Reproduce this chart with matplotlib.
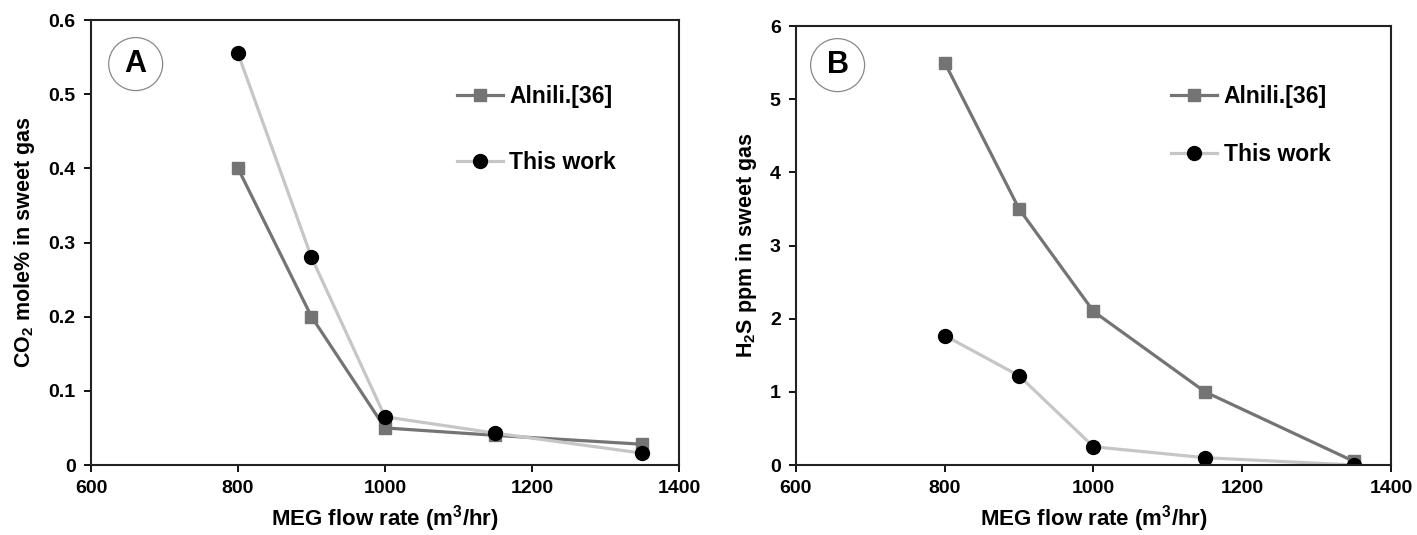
import matplotlib
matplotlib.use("Agg")
import matplotlib.pyplot as plt
from matplotlib.patches import Ellipse

# data
flow = [800, 900, 1000, 1150, 1350]
co2_alnili = [0.40, 0.20, 0.05, 0.04, 0.028]
co2_this = [0.555, 0.28, 0.065, 0.043, 0.016]
h2s_alnili = [5.5, 3.5, 2.1, 1.0, 0.05]
h2s_this = [1.77, 1.22, 0.25, 0.10, 0.0]

plt.rcParams["font.family"] = "Liberation Sans"
plt.rcParams["font.weight"] = "bold"
plt.rcParams["mathtext.fontset"] = "custom"
plt.rcParams["mathtext.rm"] = "Liberation Sans:bold"
plt.rcParams["mathtext.default"] = "rm"

dark = "#747474"
light = "#c6c6c6"

fig = plt.figure(figsize=(14.17, 5.35), dpi=100)
axA = fig.add_axes([0.0642, 0.1308, 0.4150, 0.8318])
axB = fig.add_axes([0.5617, 0.1308, 0.4200, 0.8205])


def panel(ax, y1, y2, ymax, yticks, ylabel, tag, tag_xy, leg_anchor, spacing):
    ax.plot(flow, y1, color=dark, lw=2.3, marker="s", ms=9, mfc=dark, mec=dark,
            label="Alnili.[36]")
    ax.plot(flow, y2, color=light, lw=2.3, marker="o", ms=10, mfc="black", mec="black",
            label="This work")
    ax.set_xlim(600, 1400)
    ax.set_ylim(0, ymax)
    ax.set_xticks([600, 800, 1000, 1200, 1400])
    ax.set_yticks(yticks)
    ax.tick_params(direction="out", length=5, width=1.3, labelsize=14, pad=6)
    for s in ax.spines.values():
        s.set_linewidth(1.5)
        s.set_color("#222222")
    ax.set_xlabel("MEG flow rate (m$^3$/hr)", fontsize=16, fontweight="bold", labelpad=4)
    ax.set_ylabel(ylabel, fontsize=15.5, fontweight="bold", labelpad=8)
    bb = ax.get_window_extent()
    ax.add_patch(Ellipse(tag_xy, 54 / bb.width, 53 / bb.height, transform=ax.transAxes,
                         fc="white", ec="#888888", lw=0.9, zorder=5))
    ax.text(tag_xy[0], tag_xy[1], tag, transform=ax.transAxes, fontsize=22,
            fontweight="bold", ha="center", va="center", zorder=6)
    ax.legend(loc="upper left", bbox_to_anchor=leg_anchor, frameon=False, fontsize=16.5,
              handlelength=2.0, handletextpad=0.3, labelspacing=spacing,
              borderaxespad=0, borderpad=0)


panel(axA, co2_alnili, co2_this, 0.6, [0, 0.1, 0.2, 0.3, 0.4, 0.5, 0.6],
      "CO$_2$ mole% in sweet gas", "A", (0.076, 0.901), (0.622, 0.853), 1.85)
panel(axB, h2s_alnili, h2s_this, 6, [0, 1, 2, 3, 4, 5, 6],
      "H$_2$S ppm in sweet gas", "B", (0.070, 0.911), (0.630, 0.865), 1.5)

axA.set_yticklabels(["0", "0.1", "0.2", "0.3", "0.4", "0.5", "0.6"])

fig.savefig("out.png", dpi=100)
